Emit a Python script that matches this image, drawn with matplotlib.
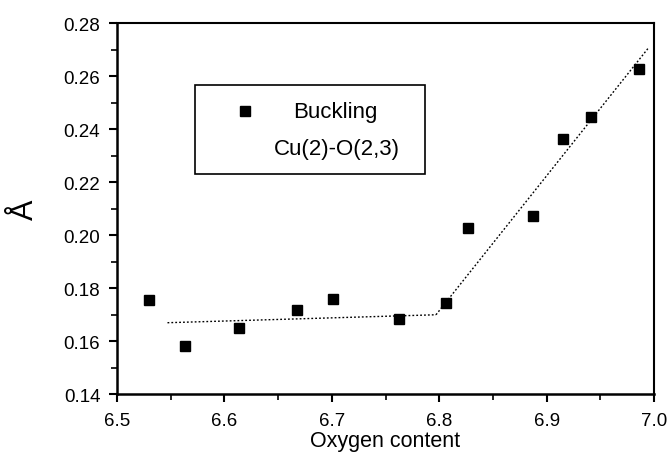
import matplotlib
matplotlib.use("Agg")
import matplotlib.pyplot as plt
from matplotlib.patches import Rectangle
from matplotlib.ticker import MultipleLocator, FormatStrFormatter

plt.rcParams['font.family'] = ['Liberation Sans', 'DejaVu Sans']

# Data
oxygen = [6.530, 6.563, 6.614, 6.668, 6.701, 6.763, 6.806, 6.827, 6.887, 6.915, 6.941, 6.986]
buckling = [0.1755, 0.1582, 0.1648, 0.1718, 0.1758, 0.1682, 0.1745, 0.2028, 0.2072, 0.2363, 0.2445, 0.2625]

fit1_x = [6.547, 6.797]
fit1_y = [0.1669, 0.1699]
fit2_x = [6.797, 6.995]
fit2_y = [0.1699, 0.2707]

xticks = [6.5, 6.6, 6.7, 6.8, 6.9, 7.0]
yticks = [0.14, 0.16, 0.18, 0.20, 0.22, 0.24, 0.26, 0.28]

fig = plt.figure(figsize=(6.69, 4.60), dpi=100)
ax = fig.add_axes([0.1749, 0.1413, 0.9776 - 0.1749, 0.9478 - 0.1413])

ax.plot(fit1_x, fit1_y, color='black', lw=1.0, linestyle=(0, (1.3, 1.5)))
ax.plot(fit2_x, fit2_y, color='black', lw=1.0, linestyle=(0, (1.3, 1.5)))
ax.plot(oxygen, buckling, linestyle='none', marker='s', markersize=6.5,
        color='black', markeredgecolor='black')

ax.set_xlim(6.5, 7.0)
ax.set_ylim(0.14, 0.28)
ax.set_xticks(xticks)
ax.set_yticks(yticks)
ax.xaxis.set_minor_locator(MultipleLocator(0.05))
ax.yaxis.set_minor_locator(MultipleLocator(0.01))
ax.xaxis.set_major_formatter(FormatStrFormatter('%.1f'))
ax.yaxis.set_major_formatter(FormatStrFormatter('%.2f'))

ax.tick_params(which='major', direction='out', length=6, width=1.5, labelsize=13.5, pad=6)
ax.tick_params(axis='x', which='major', pad=7)
ax.tick_params(which='minor', direction='out', length=4, width=1.2)
ax.tick_params(top=False, right=False, which='both')

ax.spines['left'].set_linewidth(1.8)
ax.spines['bottom'].set_linewidth(1.8)
ax.spines['top'].set_linewidth(1.5)
ax.spines['right'].set_linewidth(1.5)

ax.set_xlabel('Oxygen content', fontsize=15.5, va='center')
ax.xaxis.set_label_coords(0.5, -0.126)
ax.set_ylabel('Å', fontsize=22, va='center')
ax.yaxis.set_label_coords(-0.172, 0.5)

# Legend box drawn manually
ax.add_patch(Rectangle((0.1453, 0.593), 0.5736 - 0.1453, 0.8329 - 0.593,
                       transform=ax.transAxes, fill=False, edgecolor='black', lw=1.2))
ax.plot([0.2384], [0.7628], transform=ax.transAxes, marker='s', markersize=6.5,
        color='black', linestyle='none')
ax.text(0.406, 0.7628, 'Buckling', transform=ax.transAxes, ha='center', va='center', fontsize=16)
ax.text(0.409, 0.663, 'Cu(2)-O(2,3)', transform=ax.transAxes, ha='center', va='center', fontsize=16)

fig.savefig('out.png', dpi=100)
